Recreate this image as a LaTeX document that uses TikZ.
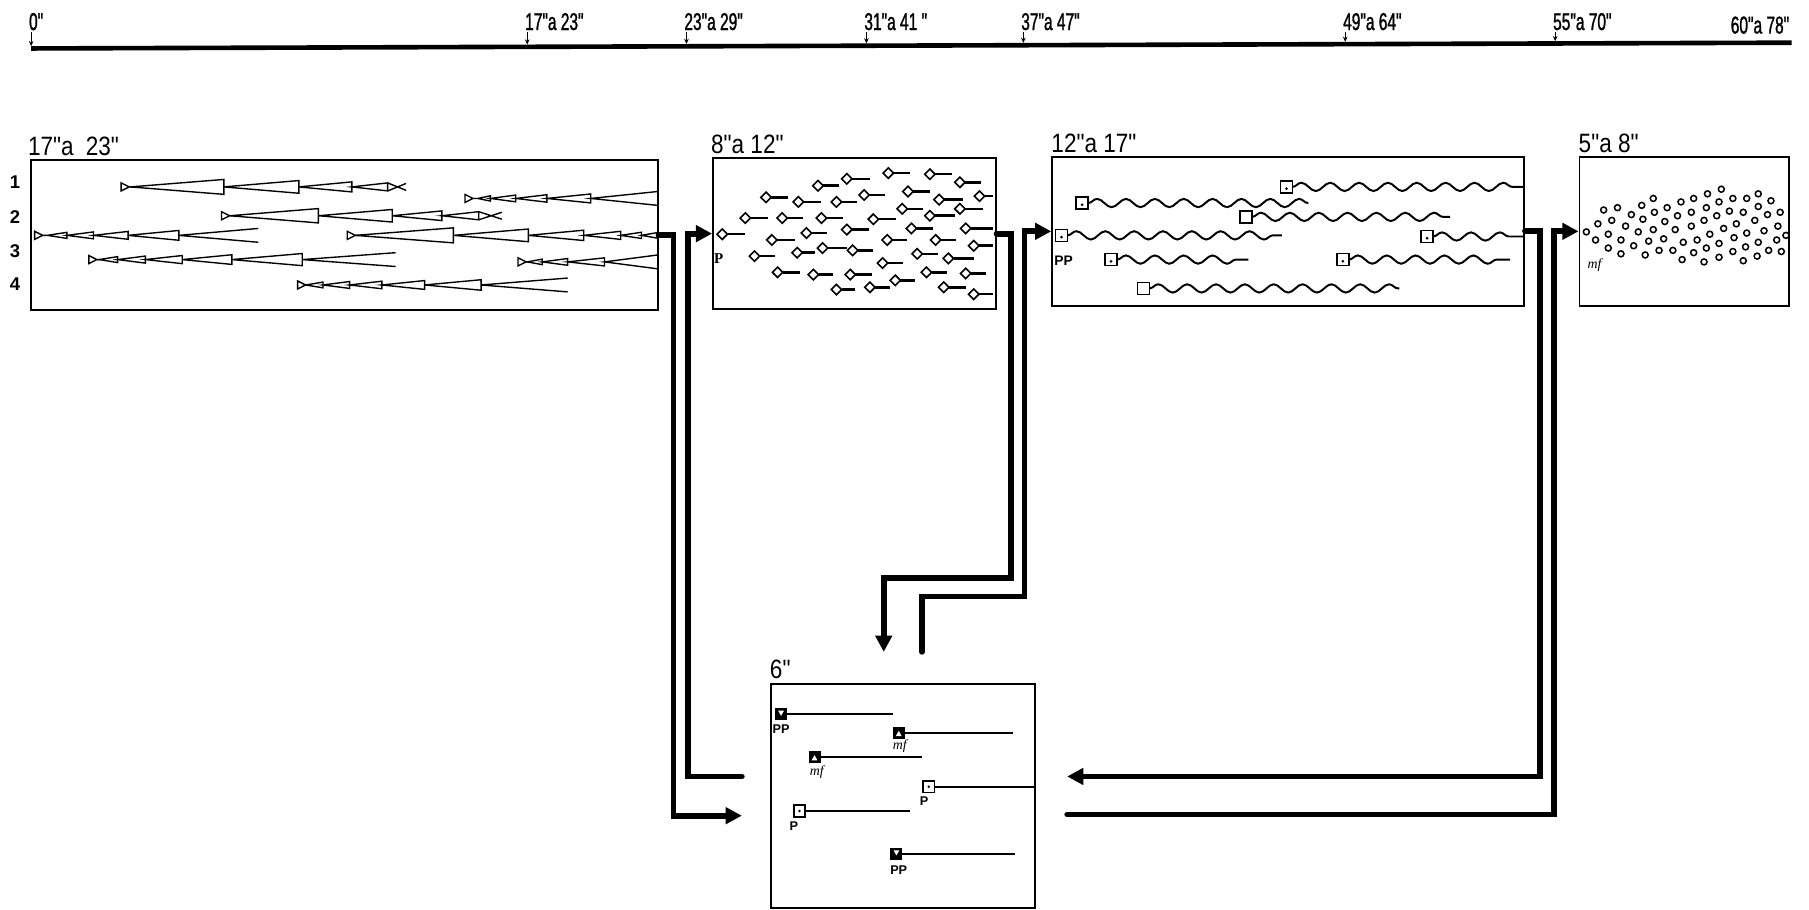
\documentclass[tikz,border=0pt]{standalone}
\usepackage{fontspec}
\setmainfont{Liberation Sans}
\newfontfamily\tickfont{Liberation Sans}[FakeStretch=0.64,FakeBold=1.2,Ligatures=TeXOff]
\newfontfamily\labelfont{Liberation Sans}[FakeStretch=0.85,Ligatures=TeXOff]
\newfontfamily\dynfont{Liberation Serif}
\usetikzlibrary{arrows.meta,positioning,calc,decorations.pathmorphing}
\tikzset{
  box/.style={draw, line width=1.6pt, inner sep=0pt},
  boxlabel/.style={font=\labelfont\fontsize{23}{23}\selectfont, inner sep=0pt, anchor=base west},
  ticklabel/.style={font=\tickfont\fontsize{21}{21}\selectfont, inner sep=0pt, anchor=base west},
  rownum/.style={font=\bfseries\fontsize{16}{16}\selectfont, inner sep=0pt},
  dyn/.style={font=\bfseries\fontsize{11}{11}\selectfont, inner sep=0pt},
  mfmark/.style={font=\dynfont\itshape\fontsize{12}{12}\selectfont, inner sep=0pt},
  hairline/.style={line width=1.2pt, line join=miter},
  sqline/.style={line width=1.4pt},
  stem/.style={line width=1.8pt},
  ring/.style={line width=1.3pt},
  wavy/.style={line width=1.7pt, decorate, decoration={snake, segment length=25pt, amplitude=3.6pt}},
  flow/.style={line width=5pt, line cap=round, -{Triangle[length=14pt,width=14pt]}},
  tickarrow/.style={line width=1.1pt, -{Stealth[length=4.5pt,width=4pt]}},
}
% hairpin pieces: start mark, closed wedge, open end, crossed end
\newcommand\pinstart[2]{\draw[hairline] (#1,{#2-3.5}) -- ({#1+7},#2) -- (#1,{#2+3.5}) -- cycle ({#1+7},#2) -- ++(3,0);}
\newcommand\pinwedge[3]{\pgfmathsetmacro\hh{min(6.5,1.6+0.06*(#2-#1))}\draw[hairline] (#1,#3) -- (#2,{#3-\hh}) -- (#2,{#3+\hh}) -- cycle;}
\newcommand\pinopen[3]{\draw[hairline] (#2,{#3-6}) -- (#1,#3) -- (#2,{#3+6});}
\newcommand\pincross[3]{\draw[hairline] (#1,{#3-3.5}) -- (#2,{#3+3}) (#1,{#3+3.5}) -- (#2,{#3-3});}
% marks of the last box
\newcommand\loudmark[3]{\fill ({#1-5.2},{#2-5.2}) rectangle ({#1+5.2},{#2+5.2});
  \fill[white] ({#1-2.5},{#2-3*#3}) -- ({#1+2.5},{#2-3*#3}) -- (#1,{#2+1.5*#3}) -- cycle;}
\newcommand\dotmark[2]{\draw[sqline] ({#1-5},{#2-5}) rectangle ({#1+5},{#2+5}); \fill (#1,#2) circle (1.2);}

\begin{document}
\begin{tikzpicture}[x=1pt,y=-1pt]
  \useasboundingbox (0,0) rectangle (1568,788);

  % time line
  \draw[line width=4pt] (27,42) -- (1553,37);
  \foreach \x/\lbl in {27/0",457/17"a 23",595/23"a 29",751/31"a 41 ",887/37"a 47",1166/49"a 64",1348/55"a 70"}{
    \node[ticklabel] (t\x) at ({\x-2},26) {\lbl};
    \draw[tickarrow] (\x,28) -- (\x,{40-5*(\x-27)/1526});
  }
  \node[ticklabel] (tend) at (1500,29) {60"a 78"};

  % boxes
  \node[box, minimum width=543pt, minimum height=130pt] (wedgebox) at (298.5,204) {};
  \node[box, minimum width=245pt, minimum height=131pt] (diamondbox) at (740.5,202.5) {};
  \node[box, minimum width=409pt, minimum height=129pt] (wavebox) at (1116.5,200.5) {};
  \node[box, minimum width=182pt, minimum height=129pt] (ringbox) at (1460,200.5) {};
  \node[box, minimum width=229pt, minimum height=194pt] (sixbox) at (782.5,690) {};

  \node[boxlabel] (wedgetitle) at ($(wedgebox.north west)+(-2,-3)$) {17"a\hspace{5pt} 23"};
  \node[boxlabel] (diamondtitle) at ($(diamondbox.north west)+(-1,-3)$) {8"a 12"};
  \node[boxlabel] (wavetitle) at ($(wavebox.north west)+(0,-3)$) {12"a 17"};
  \node[boxlabel] (ringtitle) at ($(ringbox.north west)+(0,-3)$) {5"a 8"};
  \node[boxlabel] (sixtitle) at ($(sixbox.north west)+(0,-4)$) {6"};

  \node[rownum] (row1) at (13,158) {1};
  \node[rownum] (row2) at (13,188) {2};
  \node[rownum] (row3) at (13,218) {3};
  \node[rownum] (row4) at (13,246) {4};

  % hairpin rows
  \pinstart{105}{162}
  \foreach \a/\b in {113/194,194/259,259/305,305/336} {\pinwedge{\a}{\b}{162}}
  \pincross{336}{352}{162}
  \pinstart{403}{172}
  \foreach \a/\b in {414/425,425/447,447/474,474/512} {\pinwedge{\a}{\b}{172}}
  \pinopen{512}{570}{172}
  \pinstart{192}{187}
  \foreach \a/\b in {199/276,276/340,340/383,383/415} {\pinwedge{\a}{\b}{187}}
  \pincross{415}{435}{187}
  \pinstart{30}{204}
  \foreach \a/\b in {41/58,58/81,81/111,111/155} {\pinwedge{\a}{\b}{204}}
  \pinopen{155}{224}{204}
  \pinstart{301}{204}
  \foreach \a/\b in {308/393,393/458,458/506,506/538,538/556,556/570} {\pinwedge{\a}{\b}{204}}
  \pinstart{77}{225}
  \foreach \a/\b in {86/102,102/126,126/158,158/201,201/262} {\pinwedge{\a}{\b}{225}}
  \pinopen{262}{343}{225}
  \pinstart{449}{227}
  \foreach \a/\b in {457/470,470/492,492/524} {\pinwedge{\a}{\b}{227}}
  \pinopen{524}{570}{227}
  \pinstart{258}{247}
  \foreach \a/\b in {265/280,280/303,303/331,331/368,368/417} {\pinwedge{\a}{\b}{247}}
  \pinopen{417}{492}{247}

  % diamonds with stems
  \foreach \x/\y/\e in {770/150/789,806/151/825,734/155/754,832/158/850,709/161/727,787/166/806,
      749/169/767,664/171/683,849/170/861,814/173/835,692/175/712,725/175/743,782/181/800,
      832/181/852,806/187/828,646/189/666,678/189/696,712/189/731,757/190/777,790/198/809,
      837/198/861,734/199/753,699/202/717,626/203/646,669/208/689,811/208/829,769/208/786,
      844/213/861,691/219/706,713/215/734,739/217/757,654/222/672,795/220/813,822/224/844,
      765/228/783,674/236/693,705/238/722,737/238/756,803/236/821,837/237/855,776/243/793,
      725/251/741,754/249/771,818/249/837,844/255/861}{
    \draw[hairline, line width=1.4pt] ({\x-4.5},\y) -- (\x,{\y-4.5}) -- ({\x+4.5},\y) -- (\x,{\y+4.5}) -- cycle;
    \draw[stem, line width=2.2pt] ({\x+4.5},\y) -- (\e,\y);
  }
  \node[dyn, font=\dynfont\bfseries\fontsize{13}{13}\selectfont] (pdiamond) at (623,224) {P};

  % squares with waves
  \foreach \x/\y/\e/\d in {1115/162/1320/1,938/176/1134/1,1080/188/1257/0,920/204/1111/1,
      1237/205/1320/1,963/225/1082/1,1164/225/1309/1,991/250/1213/0}{
    \draw[sqline] ({\x-5.2},{\y-5.2}) rectangle ({\x+5.2},{\y+5.2});
    \ifnum\d=1 \fill (\x,{\y+1.5}) circle (1.3); \fi
    \draw[wavy] ({\x+5.2},\y) -- (\e,\y);
  }
  \node[dyn, font=\bfseries\fontsize{12}{12}\selectfont] (ppwave) at (922,226) {PP};

  % rings
  \foreach \x/\y in {1492/164,1480/168,1524/168,1433/172,1468/172,1502/172,1514/172,1457/175,
      1490/175,1535/174,1423/178,1445/180,1479/180,1524/179,1390/182,1402/180,1434/184,1466/184,
      1499/183,1511/184,1543/184,1414/186,1454/187,1488/187,1532/186,1397/191,1424/190,1443/192,
      1477/191,1521/191,1385/194,1409/196,1466/196,1505/194,1541/196,1375/201,1394/203,1420/201,
      1433/199,1452/199,1494/198,1529/200,1383/208,1405/208,1429/209,1442/207,1471/208,1482/203,
      1503/206,1514/202,1548/204,1459/210,1490/211,1524/210,1540/208,1394/215,1416/213,1479/215,
      1513/214,1438/217,1450/217,1468/219,1502/218,1533/217,1544/218,1405/220,1426/221,1490/223,
      1523/222,1458/225,1477/227,1511/226}{
    \draw[ring] (\x,\y) circle (2.6);
  }
  \node[mfmark] (mfring) at (1382,230) {mf};

  % last box
  \loudmark{677}{619}{1}\draw[stem] (682,619) -- (774,619);
  \node[dyn] (pp1) at (677,632) {PP};
  \loudmark{779}{635}{-1}\draw[stem] (784,635) -- (878,635);
  \node[mfmark] (mf1) at (780,647) {mf};
  \loudmark{706}{656}{-1}\draw[stem] (711,656) -- (799,656);
  \node[mfmark] (mf2) at (708,669) {mf};
  \dotmark{805}{682}\draw[stem] (810,682) -- (896,682);
  \node[dyn] (p1) at (801,694) {P};
  \dotmark{693}{703}\draw[stem] (698,703) -- (789,703);
  \node[dyn] (p2) at (688,716) {P};
  \loudmark{777}{740}{1}\draw[stem] (782,740) -- (880,740);
  \node[dyn] (pp2) at (779,754) {PP};

  % connectors
  \coordinate (tosixA) at (643,707);
  \coordinate (fromsixB) at (643,673);
  \coordinate (tosixC) at (766,565);
  \coordinate (fromsixD) at (799,565);
  \coordinate (tosixE) at (925,673);
  \coordinate (fromsixF) at (925,706);
  \draw[flow] (wedgebox.east) -- ++(13,0) |- (tosixA);
  \draw[flow] (fromsixB) -| ($(diamondbox.west)+(-21,0)$) -- (diamondbox.west);
  \draw[flow] (diamondbox.east) -| (876,501) -| (tosixC);
  \draw[flow] (fromsixD) |- (888,517) |- (wavebox.west);
  \draw[flow] (wavebox.east) -| (1335,673) -- (tosixE);
  \draw[flow] (fromsixF) -| ($(ringbox.west)+(-21,0)$) -- (ringbox.west);
\end{tikzpicture}
\end{document}
